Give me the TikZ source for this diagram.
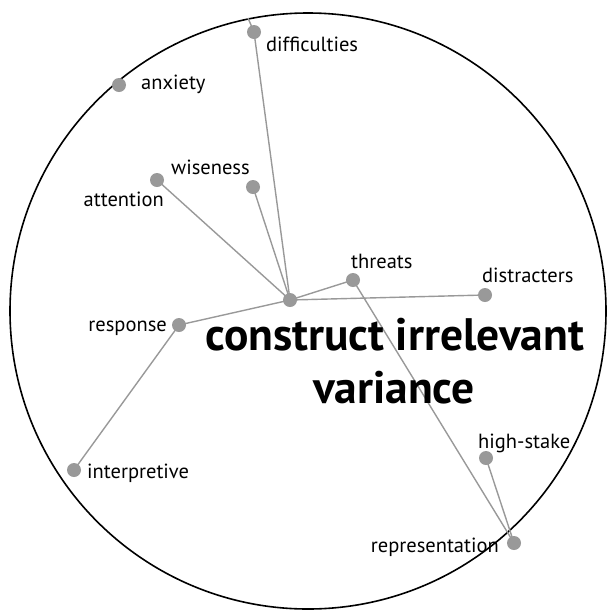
\documentclass[tikz,border=0pt]{standalone}
\usepackage{fontspec}
\setmainfont{PT Sans}
\begin{document}
\begin{tikzpicture}[x=1pt,y=-1pt,
  dot/.style={circle,fill=black!40,draw=none,minimum size=14pt,inner sep=0pt},
  link/.style={draw=black!40,line width=1.4pt},
  lbl/.style={font=\fontsize{20.5}{24}\selectfont,inner sep=0pt},
  head/.style={font=\fontsize{45.5}{54}\selectfont\bfseries,inner sep=0pt,anchor=base}]
  \useasboundingbox (0,0) rectangle (616,614);
  % outer ring
  \draw[line width=1.6pt] (308,311) circle[radius=298];
  % connectors first, so the dots sit on top
  \coordinate (hubc) at (290,300);
  \coordinate (rim) at (248,18);
  \coordinate (diffc) at (254,32);
  \coordinate (attc) at (157,180);
  \coordinate (wisc) at (253,187);
  \coordinate (thrc) at (353,280);
  \coordinate (disc) at (485,295);
  \coordinate (respc) at (179,325);
  \coordinate (interpc) at (74,470);
  \coordinate (highc) at (486,458);
  \coordinate (repc) at (514,543);
  \draw[link] (hubc) -- (diffc) -- (rim);
  \draw[link] (hubc) -- (attc);
  \draw[link] (hubc) -- (wisc);
  \draw[link] (hubc) -- (thrc);
  \draw[link] (hubc) -- (disc);
  \draw[link] (hubc) -- (respc);
  \draw[link] (respc) -- (interpc);
  \draw[link] (thrc) -- (repc);
  \draw[link] (highc) -- (repc);
  % dots
  \node[dot] (hub) at (hubc) {};
  \node[dot] (diff) at (diffc) {};
  \node[dot] (anx) at (119,85) {};
  \node[dot] (att) at (attc) {};
  \node[dot] (wis) at (wisc) {};
  \node[dot] (thr) at (thrc) {};
  \node[dot] (dis) at (disc) {};
  \node[dot] (resp) at (respc) {};
  \node[dot] (interp) at (interpc) {};
  \node[dot] (high) at (highc) {};
  \node[dot] (rep) at (repc) {};
  % labels
  \node[lbl,anchor=base west] (tdiff) at (266,51) {difficulties};
  \node[lbl,anchor=base west] (tanx) at (141,89) {anxiety};
  \node[lbl,anchor=base east] (tatt) at (164,206) {attention};
  \node[lbl,anchor=base west] (twis) at (171,174) {wiseness};
  \node[lbl,anchor=base west] (tthr) at (351,268) {threats};
  \node[lbl,anchor=base west] (tdis) at (482,282) {distracters};
  \node[lbl,anchor=base east] (tresp) at (167,331) {response};
  \node[lbl,anchor=base west] (tint) at (87,478) {interpretive};
  \node[lbl,anchor=base west] (thigh) at (478,448) {high-stake};
  \node[lbl,anchor=base east] (trep) at (499,552) {representation};
  \node[head] (title1) at (394.5,350) {construct irrelevant};
  \node[head] (title2) at (394,403) {variance};
\end{tikzpicture}
\end{document}
